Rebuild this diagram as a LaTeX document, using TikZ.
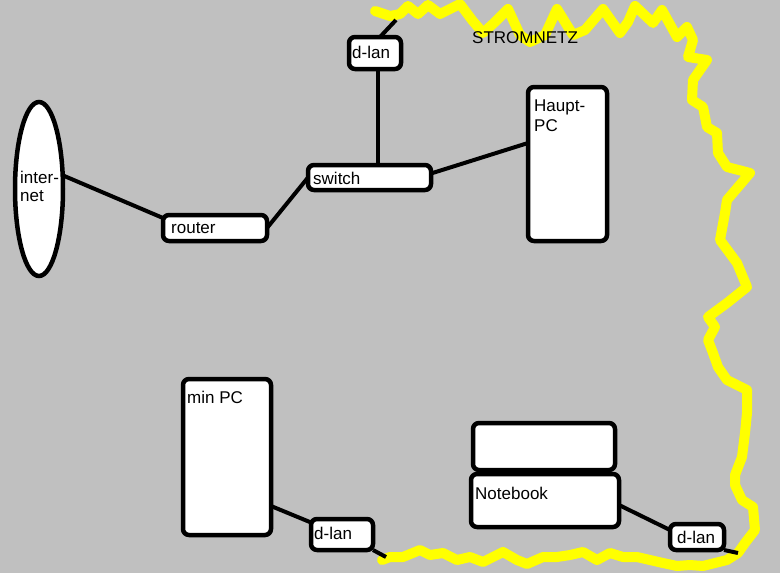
\documentclass[tikz,border=0pt]{standalone}
\usepackage{fontspec}
\setmainfont{Liberation Sans}
\usetikzlibrary{shapes.geometric}
\definecolor{bgc}{RGB}{192,192,192}
\definecolor{power}{RGB}{255,255,0}
\begin{document}
\begin{tikzpicture}[x=1pt,y=-1pt,
 box/.style={draw=black,line width=4.5pt,fill=white,rounded corners=6pt,inner sep=0pt,outer sep=0pt},
 cloudshape/.style={ellipse,draw=black,line width=4.5pt,fill=white,inner sep=0pt,outer sep=0pt},
 txt/.style={font=\fontsize{17}{19}\selectfont,inner sep=0pt,anchor=west,text=black},
 wire/.style={draw=black,line width=4pt},
 mains/.style={draw=power,line width=10pt,line join=round,line cap=round}]
\useasboundingbox (0,0) rectangle (780,573);
\fill[bgc] (0,0) rectangle (780,573);
% Stromnetz
\draw[mains] (375,11) -- (390,16) -- (400,14) -- (408,6) -- (418,14) -- (428,5) -- (440,14) -- (460,4)
 -- (472,20) -- (483,33) -- (495,22) -- (508,9) -- (520,35) -- (530,42) -- (545,35) -- (557,9)
 -- (573,35) -- (585,30) -- (603,9) -- (620,33) -- (628,22) -- (635,6) -- (653,23) -- (662,10)
 -- (677,37) -- (687,27) -- (693,40) -- (688,57) -- (707,60) -- (693,80) -- (692,100) -- (703,107)
 -- (707,127) -- (717,133) -- (718,153) -- (727,167) -- (750,173) -- (727,200) -- (725,213)
 -- (720,240) -- (737,263) -- (747,287) -- (727,303) -- (708,317) -- (715,327) -- (708,340)
 -- (713,353) -- (718,367) -- (727,380) -- (747,390) -- (747,413) -- (745,433) -- (742,457)
 -- (735,475) -- (735,485) -- (742,500) -- (753,507) -- (755,530) -- (745,543) -- (738,553)
 -- (727,560) -- (703,566) -- (690,565) -- (677,566) -- (663,563) -- (650,560) -- (637,557)
 -- (623,557) -- (610,553) -- (597,560) -- (583,552) -- (570,555) -- (557,557) -- (543,557)
 -- (527,564) -- (517,560) -- (503,552) -- (483,562) -- (470,557) -- (457,560) -- (443,553)
 -- (430,555) -- (420,550) -- (403,557) -- (390,557) -- (382,560);
% Geraete
\node[cloudshape,minimum width=48pt,minimum height=174pt] (internet) at (39,189) {};
\node[box,minimum width=104pt,minimum height=26pt] (router) at (215,228) {};
\node[box,minimum width=123pt,minimum height=25pt] (switch) at (369.5,177.5) {};
\node[box,minimum width=52pt,minimum height=32pt] (dlanT) at (375,53) {};
\node[box,minimum width=79pt,minimum height=154pt] (haupt) at (567.5,164) {};
\node[box,minimum width=88pt,minimum height=156pt] (minpc) at (227,457) {};
\node[box,minimum width=62pt,minimum height=31pt] (dlanL) at (342,534.5) {};
\node[box,minimum width=142pt,minimum height=47pt] (nbtop) at (544,446.5) {};
\node[box,minimum width=148pt,minimum height=53pt] (nbbot) at (545,500.5) {};
\node[box,minimum width=54pt,minimum height=26pt] (dlanR) at (697,537) {};
% Verbindungen
\coordinate (gT) at (396,20);
\coordinate (gL) at (386,557);
\coordinate (gR) at (738,553);
\draw[wire] (internet.30) -- ([yshift=10pt]router.west);
\draw[wire] (router.east) -- (switch.west);
\draw[wire] ([xshift=3pt]dlanT.south) -- ([xshift=3pt]dlanT.south |- switch.north);
\draw[wire] ([yshift=4pt]switch.east) -- ([yshift=21pt]haupt.west);
\draw[wire] ([xshift=5pt]dlanT.north) -- (gT);
\draw[wire] ([yshift=-49pt]minpc.east) -- ([yshift=12pt]dlanL.west);
\draw[wire] (dlanL.south east) -- (gL);
\draw[wire] ([yshift=-4.5pt]nbbot.east) -- ([yshift=7pt]dlanR.west);
\draw[wire] (dlanR.south east) -- (gR);
% Texte
\node[txt] (tInt1) at (20,177) {inter-};
\node[txt] (tInt2) at (20,196) {net};
\node[txt] (tRouter) at (171,228) {router};
\node[txt] (tSwitch) at (313,178) {switch};
\node[txt] (tDlanT) at (352,52) {d-lan};
\node[txt] (tHaupt1) at (534,107) {Haupt-};
\node[txt] (tHaupt2) at (534,126) {PC};
\node[txt] (tMin) at (187,397) {min PC};
\node[txt] (tDlanL) at (314,533) {d-lan};
\node[txt] (tNb) at (475,493) {Notebook};
\node[txt] (tDlanR) at (677,537) {d-lan};
\node[txt] (tStrom) at (472,38) {STROMNETZ};
\end{tikzpicture}
\end{document}
